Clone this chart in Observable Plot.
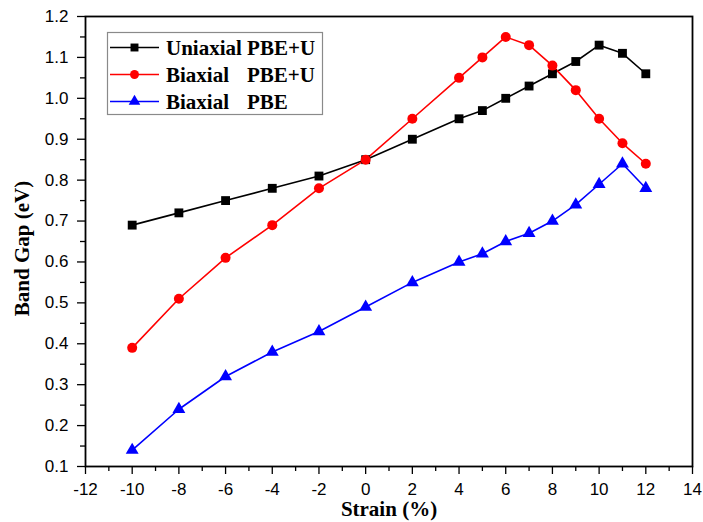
<!DOCTYPE html>
<html>
<head>
<meta charset="utf-8">
<script src="https://cdn.jsdelivr.net/npm/d3@7"></script>
<script src="https://cdn.jsdelivr.net/npm/@observablehq/plot@0.6"></script>
<style>
  html, body { margin: 0; padding: 0; background: #fff; }
  #chart svg { display: block; }
</style>
</head>
<body>
<div id="chart"></div>
<script>
// Data
const strain = [-10, -8, -6, -4, -2, 0, 2, 4, 5, 6, 7, 8, 9, 10, 11, 12];
const uniaxialPBEU = [0.69, 0.72, 0.75, 0.78, 0.81, 0.85, 0.90, 0.95, 0.97, 1.00, 1.03, 1.06, 1.09, 1.13, 1.11, 1.06];
const biaxialPBEU  = [0.39, 0.51, 0.61, 0.69, 0.78, 0.85, 0.95, 1.05, 1.10, 1.15, 1.13, 1.08, 1.02, 0.95, 0.89, 0.84];
const biaxialPBE   = [0.14, 0.24, 0.32, 0.38, 0.43, 0.49, 0.55, 0.60, 0.62, 0.65, 0.67, 0.70, 0.74, 0.79, 0.84, 0.78];

const seriesNames = ["Uniaxial PBE+U", "Biaxial   PBE+U", "Biaxial   PBE"];
const seriesColors = ["#000000", "#ff0000", "#0000ff"];
const seriesSymbols = ["square", "circle", "triangle"];
const seriesR = [5, 5, 4.8];

const xMajor = d3.range(-12, 15, 2);
const xMinor = d3.range(-11, 14, 2);
const yMajor = d3.range(1, 13).map(d => +(d / 10).toFixed(1));
const yMinor = d3.range(0, 11).map(d => +(0.15 + d / 10).toFixed(2));

const allSeries = [uniaxialPBEU, biaxialPBEU, biaxialPBE];
const rows = [];
allSeries.forEach((vals, si) => {
  vals.forEach((v, i) => rows.push({ series: seriesNames[si], si, x: strain[i], y: v }));
});

const marks = [];
allSeries.forEach((vals, si) => {
  const data = rows.filter(d => d.si === si);
  marks.push(Plot.line(data, { x: "x", y: "y", stroke: seriesColors[si], strokeWidth: 1.6 }));
});
allSeries.forEach((vals, si) => {
  const data = rows.filter(d => d.si === si);
  marks.push(Plot.dot(data, { x: "x", y: "y", symbol: seriesSymbols[si], r: seriesR[si], fill: seriesColors[si], stroke: "none" }));
});

const serif = "'Liberation Serif', 'Times New Roman', serif";

const svg = Plot.plot({
  width: 703,
  height: 522,
  marginLeft: 85,
  marginRight: 11,
  marginTop: 16,
  marginBottom: 56,
  style: { fontFamily: "'Liberation Sans', Arial, sans-serif", background: "#fff", overflow: "visible" },
  x: { domain: [-12, 14] },
  y: { domain: [0.1, 1.2] },
  marks: [
    Plot.axisX({ ticks: xMinor, tickSize: 5, text: null, label: null, strokeWidth: 1.3 }),
    Plot.axisX({ ticks: xMajor, tickSize: 8, tickPadding: 8, fontSize: 17, label: null, strokeWidth: 1.3, tickFormat: d => d < 0 ? "-" + Math.abs(d) : String(d) }),
    Plot.axisY({ ticks: yMinor, tickSize: 5, text: null, label: null, strokeWidth: 1.3 }),
    Plot.axisY({ ticks: yMajor, tickSize: 8, tickPadding: 9, fontSize: 17, label: null, strokeWidth: 1.3, tickFormat: d => d.toFixed(1) }),
    Plot.frame({ stroke: "#000", strokeWidth: 1.8 }),
    ...marks,
    Plot.text(["Strain (%)"], { frameAnchor: "bottom", lineAnchor: "middle", dy: 43, fontSize: 21, fontWeight: "bold", fontFamily: serif, fill: "#000" }),
    Plot.text(["Band Gap (eV)"], { frameAnchor: "left", textAnchor: "middle", lineAnchor: "middle", dx: -63, dy: 7, rotate: -90, fontSize: 21, fontWeight: "bold", fontFamily: serif, fill: "#000" })
  ]
});

// Legend inside the plot area
const g = d3.select(svg).append("g").attr("class", "legend").attr("text-anchor", "start");
g.append("rect").attr("x", 107.5).attr("y", 32.5).attr("width", 215).attr("height", 82)
  .attr("fill", "#fff").attr("stroke", "#8a8a8a").attr("stroke-width", 1.2);
const symMap = { square: d3.symbolSquare, circle: d3.symbolCircle, triangle: d3.symbolTriangle };
const rowY = [47.5, 74.5, 101.5];
const labelParts = [["Uniaxial PBE+U"], ["Biaxial ", "PBE+U"], ["Biaxial ", "PBE"]];
seriesNames.forEach((name, i) => {
  const y = rowY[i];
  g.append("line").attr("x1", 110).attr("x2", 159).attr("y1", y).attr("y2", y)
    .attr("stroke", seriesColors[i]).attr("stroke-width", 1.6);
  g.append("path").attr("transform", `translate(134.5,${y})`)
    .attr("d", d3.symbol(symMap[seriesSymbols[i]], Math.PI * seriesR[i] * seriesR[i] * 0.8)())
    .attr("fill", seriesColors[i]);
  const t = g.append("text").attr("y", y).attr("dy", "0.35em")
    .attr("text-anchor", "start")
    .attr("font-family", serif)
    .attr("font-weight", "bold").attr("font-size", 21).attr("fill", "#000");
  const parts = labelParts[i];
  t.append("tspan").attr("x", 166).text(parts[0]);
  if (parts[1]) t.append("tspan").attr("x", 247).text(parts[1]);
});

document.getElementById("chart").appendChild(svg);
</script>
</body>
</html>
